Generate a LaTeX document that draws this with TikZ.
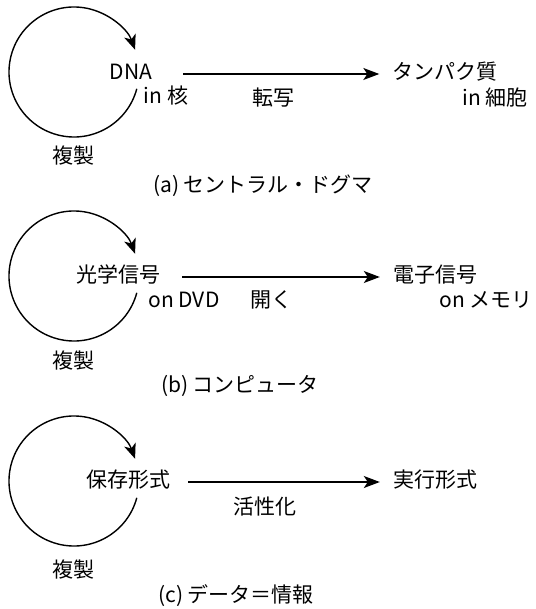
\documentclass[tikz,border=0pt]{standalone}
\usepackage{fontspec}
\setmainfont{Noto Sans CJK JP}
\usetikzlibrary{arrows.meta}
\begin{document}
\begin{tikzpicture}[x=1pt,y=1pt,
  lbl/.style={inner sep=0pt, font=\fontsize{21}{25}\selectfont, text height=15pt, text depth=4pt},
  loop/.style={line width=1.4pt, -{Stealth[length=15pt,width=12pt,inset=4pt]}},
  flow/.style={line width=1.4pt, -{Stealth[length=16pt,width=12pt,inset=4pt]}}]
\useasboundingbox (0,0) rectangle (535,-609);
% ---------- (a)
\coordinate (ca) at (74,-72);
\draw[loop] (ca) ++(-15:65) arc[start angle=-15, end angle=-340, radius=65];
\node[lbl] (dna) at (131,-74) {DNA};
\node[lbl] (dnain) at (166,-98) {in 核};
\node[lbl] (prot) at (445,-74) {タンパク質};
\node[lbl] (protin) at (495,-100) {in 細胞};
\draw[flow, shorten <=31pt, shorten >=13pt] (dna.east) -- (prot.west);
\node[lbl] (tr) at (273,-100) {転写};
\node[lbl] (repa) at (73,-158) {複製};
\node[lbl] (capa) at (263,-187) {(a) セントラル・ドグマ};
% ---------- (b)
\coordinate (cb) at (74,-276);
\draw[loop] (cb) ++(-15:65) arc[start angle=-15, end angle=-340, radius=65];
\node[lbl] (opt) at (118,-277) {光学信号};
\node[lbl] (optin) at (184,-302) {on DVD};
\node[lbl] (ele) at (435,-277) {電子信号};
\node[lbl] (elein) at (486,-302) {on メモリ};
\draw[flow, shorten <=22pt, shorten >=13pt] (opt.east) -- (ele.west);
\node[lbl] (open) at (271,-302) {開く};
\node[lbl] (repb) at (73,-363) {複製};
\node[lbl] (capb) at (240,-387) {(b) コンピュータ};
% ---------- (c)
\coordinate (cc) at (74,-481);
\draw[loop] (cc) ++(-15:65) arc[start angle=-15, end angle=-340, radius=65];
\node[lbl] (save) at (128,-482) {保存形式};
\node[lbl] (exe) at (435,-482) {実行形式};
\draw[flow, shorten <=18pt, shorten >=13pt] (save.east) -- (exe.west);
\node[lbl] (act) at (265,-509) {活性化};
\node[lbl] (repc) at (73,-572) {複製};
\node[lbl] (capc) at (236,-597) {(c) データ＝情報};
\end{tikzpicture}
\end{document}
